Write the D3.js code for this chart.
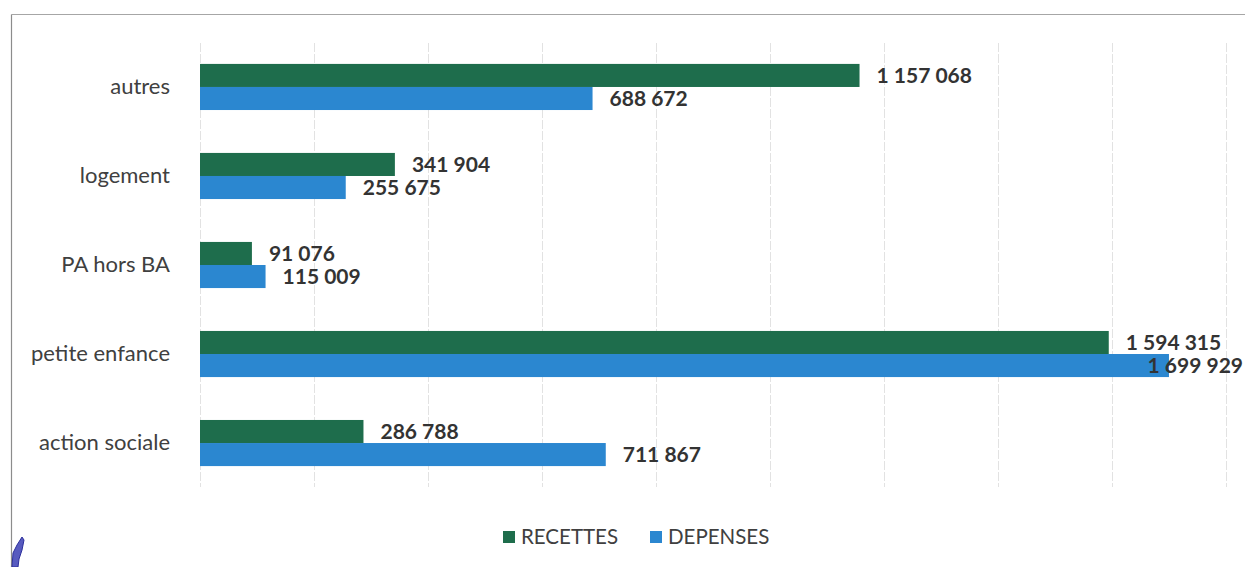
<!DOCTYPE html>
<html>
<head>
<meta charset="utf-8">
<script src="https://cdn.jsdelivr.net/npm/d3@7/dist/d3.min.js"></script>
<style>
  html, body { margin: 0; padding: 0; background: #fff; }
  svg { display: block; font-family: Lato, "Open Sans", sans-serif; }
</style>
</head>
<body>
<svg id="chart" width="1245" height="567"></svg>
<script>
// Budget by domain: revenue vs. spending
const categories = ["autres", "logement", "PA hors BA", "petite enfance", "action sociale"];
const seriesNames = ["RECETTES", "DEPENSES"];
const recettes = [1157068, 341904, 91076, 1594315, 286788];
const depenses = [688672, 255675, 115009, 1699929, 711867];
const tickValues = [0, 200000, 400000, 600000, 800000, 1000000, 1200000, 1400000, 1600000, 1800000];

const colors = { RECETTES: "#1e6d4c", DEPENSES: "#2b87d0" };

const W = 1245, H = 567;
const svg = d3.select("#chart");

const plot = { left: 200, right: 1226, top: 43, bottom: 487 };

const x = d3.scaleLinear().domain([0, 1800000]).range([plot.left, plot.right]);
const y = d3.scaleBand().domain(categories).range([plot.top, plot.bottom])
  .paddingInner(0.482).paddingOuter(0.235);
const ySub = d3.scaleBand().domain(seriesNames).range([0, y.bandwidth()]);

const rows = categories.map((c, i) => ({ cat: c, RECETTES: recettes[i], DEPENSES: depenses[i] }));

// frame
svg.append("line").attr("x1", 11.5).attr("x2", W).attr("y1", 14.5).attr("y2", 14.5)
  .attr("stroke", "#a6a6a6").attr("stroke-width", 1);
svg.append("line").attr("x1", 11.5).attr("x2", 11.5).attr("y1", 14.5).attr("y2", H)
  .attr("stroke", "#8c8c8c").attr("stroke-width", 1.2);

// vertical gridlines
const gridAxis = d3.axisBottom(x).tickValues(tickValues).tickSize(plot.bottom - plot.top).tickFormat("");
const grid = svg.append("g").attr("transform", `translate(0,${plot.top})`).call(gridAxis);
grid.select(".domain").remove();
grid.selectAll(".tick line").attr("stroke", "#e2e2e2").attr("stroke-width", 1)
  .attr("stroke-dasharray", "9,2");

// category axis
const yAxis = d3.axisLeft(y).tickSize(0).tickPadding(30);
const ya = svg.append("g").attr("transform", `translate(${plot.left},0)`).call(yAxis);
ya.select(".domain").remove();
ya.selectAll("text").attr("font-size", 22).attr("fill", "#404040")
  .attr("font-family", "Lato, sans-serif").attr("dy", "0.3em");

// bars
const groups = svg.append("g").selectAll("g").data(rows).join("g")
  .attr("transform", d => `translate(0,${y(d.cat)})`);

groups.selectAll("rect").data(d => seriesNames.map(s => ({ s, v: d[s] }))).join("rect")
  .attr("x", x(0))
  .attr("y", d => ySub(d.s))
  .attr("width", d => x(d.v) - x(0))
  .attr("height", ySub.bandwidth())
  .attr("fill", d => colors[d.s]);

// value labels
const fmt = v => d3.format(",")(v).replace(/,/g, " ");
const rightLimit = W - 2;
groups.selectAll("text.val").data(d => seriesNames.map(s => ({ s, v: d[s] }))).join("text")
  .attr("class", "val")
  .attr("y", d => ySub(d.s) + ySub.bandwidth() / 2)
  .attr("dy", "0.36em")
  .attr("font-size", 21)
  .attr("font-weight", "bold")
  .attr("fill", "#333")
  .text(d => fmt(d.v))
  .attr("x", function (d) {
    const w = this.getComputedTextLength();
    return Math.min(x(d.v) + 17, rightLimit - w);
  });

// legend
const legend = svg.append("g").attr("transform", "translate(503,537)");
const legendX = [0, 147];
seriesNames.forEach((s, i) => {
  const g = legend.append("g").attr("transform", `translate(${legendX[i]},0)`);
  g.append("rect").attr("x", 0).attr("y", -6).attr("width", 12).attr("height", 12).attr("fill", colors[s]);
  g.append("text").attr("x", 18).attr("y", 0).attr("dy", "0.36em")
    .attr("font-size", 20.5).attr("fill", "#404040").text(s);
});

// pen mark in the lower-left corner
svg.append("path")
  .attr("d", "M12,567 L13,553 L17,545 L22,537 L24,540 L22,550 L19,559 L18,567 Z")
  .attr("fill", "#3a3db4").attr("fill-opacity", 0.85)
  .attr("stroke", "#2c2f9c").attr("stroke-width", 1).attr("stroke-linejoin", "round");
</script>
</body>
</html>
